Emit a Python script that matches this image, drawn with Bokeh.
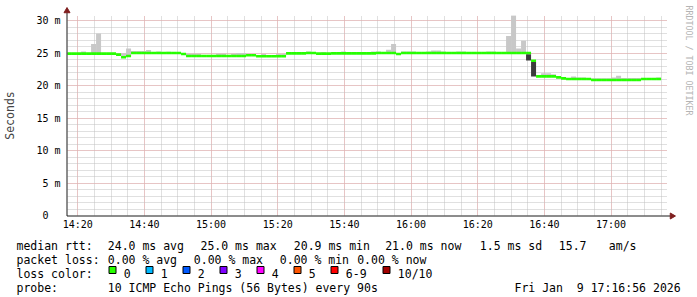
import numpy as np
import pandas as pd
from bokeh.plotting import figure
from bokeh.models import Range1d, FixedTicker, DatetimeTickFormatter
from bokeh.embed import file_html
from bokeh.resources import INLINE
from bokeh.core.properties import value

# ---------------- data ----------------
first_step = "2026-01-09 14:16:30"   # RRD step start
step_seconds = 90
view_start = "2026-01-09 14:16:56"
view_end = "2026-01-09 17:16:56"

# median rtt per 90 s step (ms)
median_ms = [
    24.9, 24.9, 24.9, 24.9, 24.9, 24.9, 24.9, 24.9, 24.9, 24.9,
    24.75, 24.35, 24.55, 25.0, 25.0, 25.0, 25.0, 25.0, 25.0, 25.0,
    25.0, 25.0, 25.0, 24.85, 24.55, 24.55, 24.55, 24.55, 24.55, 24.55,
    24.55, 24.55, 24.55, 24.55, 24.55, 24.55, 24.65, 24.65, 24.5, 24.5,
    24.5, 24.5, 24.5, 24.5, 24.95, 24.95, 24.95, 24.95, 25.0, 25.0,
    24.9, 24.9, 24.9, 24.95, 24.95, 24.95, 24.95, 24.95, 24.95, 24.95,
    24.95, 24.95, 25.0, 25.0, 25.0, 25.0, 24.85, 25.0, 25.0, 25.0,
    25.0, 25.0, 25.0, 25.0, 25.0, 25.0, 25.0, 25.0, 25.0, 25.0,
    25.0, 25.0, 25.0, 25.0, 25.0, 25.0, 25.0, 25.0, 25.0, 25.0,
    25.0, 25.0, 25.0, 23.8, 21.4, 21.4, 21.4, 21.4, 21.25, 21.1,
    21.0, 21.0, 21.0, 21.0, 21.0, 20.85, 20.85, 20.85, 20.85, 20.85,
    20.85, 20.85, 20.85, 20.85, 20.85, 21.0, 21.0, 21.0, 21.0,
]

# top of the light smoke per step (ms)
smoke_hi_ms = [
    24.9, 24.9, 24.9, 25.25, 24.9, 26.4, 28.0, 24.9, 24.9, 24.9,
    24.75, 24.95, 25.7, 25.3, 25.3, 25.3, 25.45, 25.0, 25.25, 25.0,
    25.2, 25.0, 25.0, 24.85, 24.9, 24.9, 24.9, 24.55, 24.55, 24.55,
    24.9, 24.9, 24.55, 24.9, 25.0, 25.0, 24.65, 24.65, 24.5, 24.85,
    24.5, 24.5, 24.85, 24.85, 24.95, 24.95, 24.95, 24.95, 25.25, 25.0,
    24.9, 25.1, 24.9, 24.95, 24.95, 25.25, 24.95, 24.95, 24.95, 24.95,
    24.95, 25.25, 25.25, 25.0, 25.5, 26.4, 24.85, 25.25, 25.25, 25.25,
    25.0, 25.0, 25.25, 25.4, 25.4, 25.25, 25.0, 25.1, 25.25, 25.25,
    25.0, 25.1, 25.0, 25.0, 25.25, 25.25, 25.0, 25.0, 27.6, 30.8,
    25.7, 26.9, 25.0, 23.8, 21.4, 21.9, 21.9, 21.75, 21.25, 21.1,
    21.15, 21.4, 21.25, 21.25, 21.15, 21.1, 21.1, 21.1, 21.1, 21.25,
    21.5, 21.15, 21.15, 21.15, 21.15, 21.0, 21.0, 21.1, 21.25,
]

# dark smoke (inner pings) where it shows
dark_steps = [92, 93]
dark_lo_ms = [23.85, 21.4]
dark_hi_ms = [24.8, 23.6]

y_major = [0, 5, 10, 15, 20, 25, 30]
y_labels = ["0\u00a0\u00a0", "5 m", "10 m", "15 m", "20 m", "25 m", "30 m"]
y_minor = list(range(0, 31))
y_top = 30.77

# legend content
median_stats = ["24.0 ms avg", "25.0 ms max", "20.9 ms min", "21.0 ms now", "1.5 ms sd", "15.7", "am/s"]
loss_stats = ["0.00 % avg", "0.00 % max", "0.00 % min", "0.00 % now"]
loss_names = ["0", "1", "2", "3", "4", "5", "6-9", "10/10"]
loss_colors = ["#26ff00", "#00b8ff", "#0059ff", "#7e00ff", "#ff00ff", "#ff5500", "#ff0000", "#a10000"]
probe_text = "10 ICMP Echo Pings (56 Bytes) every 90s"
stamp_text = "Fri Jan \u00a09 17:16:56 2026"
credit_text = "RRDTOOL / TOBI OETIKER"


def ms(ts):
    return int(pd.Timestamp(ts).timestamp() * 1000)


steps = pd.date_range(first_step, periods=len(median_ms), freq=f"{step_seconds}s")
left = np.array([ms(t) for t in steps], dtype=float)
right = left + step_seconds * 1000
med = np.array(median_ms)
hi = np.array(smoke_hi_ms)

MONO = "DejaVu Sans Mono"
GRID_MINOR = "#c0c0c0"
GRID_MAJOR = "#eeaaaa"
AXIS_COL = "#1a1a1a"
ARROW_COL = "#7f1f1f"

p = figure(width=697, height=297, output_backend="svg", toolbar_location=None,
           x_axis_type="datetime",
           x_range=Range1d(ms(view_start), ms(view_end)),
           y_range=Range1d(0, y_top),
           min_border_left=67, min_border_right=30, min_border_top=15, min_border_bottom=82)
p.outline_line_color = None
p.background_fill_color = "white"
p.border_fill_color = "white"
# page-pixel helper ranges for legend / decorations outside the frame
p.extra_x_ranges = {"px": Range1d(67, 667)}
p.extra_y_ranges = {"px": Range1d(215, 15)}
PX = dict(x_range_name="px", y_range_name="px", level="overlay")

# light smoke
p.quad(left=left, right=right, bottom=med, top=np.maximum(hi, med),
       fill_color="#c8c8c8", line_color=None)
# dark smoke
p.quad(left=left[dark_steps], right=right[dark_steps], bottom=dark_lo_ms, top=dark_hi_ms,
       fill_color="#3c3c3c", line_color=None)
# median band (loss colour 0)
p.quad(left=left, right=right, bottom=med - 0.2, top=med + 0.2,
       fill_color=loss_colors[0], line_color=None)

x_major = [ms(t) for t in pd.date_range("2026-01-09 14:20", "2026-01-09 17:00", freq="20min")]
x_minor = [ms(t) for t in pd.date_range("2026-01-09 14:20", "2026-01-09 17:15", freq="5min")]
xt = FixedTicker(ticks=x_major, minor_ticks=x_minor)
p.xaxis.ticker = xt
p.xgrid.ticker = xt
p.xaxis.formatter = DatetimeTickFormatter(minutes="%H:%M", hourmin="%H:%M", hours="%H:%M",
                                          minsec="%H:%M", days="%H:%M")
yt = FixedTicker(ticks=y_major, minor_ticks=y_minor)
p.yaxis.ticker = yt
p.ygrid.ticker = yt
p.yaxis.major_label_overrides = {v: s for v, s in zip(y_major, y_labels)}

for g in (p.xgrid, p.ygrid):
    g.grid_line_color = GRID_MAJOR
    g.grid_line_dash = "1 1"
    g.minor_grid_line_color = GRID_MINOR
    g.minor_grid_line_dash = "1 1"

for ax in (p.xaxis, p.yaxis):
    ax.major_tick_in = 0
    ax.major_tick_out = 0
    ax.minor_tick_in = 0
    ax.minor_tick_out = 0
    ax.axis_line_color = None
    ax.major_label_text_font = MONO
    ax.major_label_text_font_size = "10px"
    ax.major_label_text_color = "black"
p.xaxis.major_label_standoff = 3
p.yaxis.major_label_standoff = 7
p.yaxis.axis_label = "Seconds"
p.yaxis.axis_label_text_font = MONO
p.yaxis.axis_label_text_font_size = "11.5px"
p.yaxis.axis_label_text_font_style = "normal"
p.yaxis.axis_label_standoff = 16

# axis lines with arrow heads (page pixels)
p.segment(x0=[66.5, 66.5], y0=[215.5, 215.5], x1=[66.5, 670], y1=[12, 215.5],
          line_color=AXIS_COL, line_width=1, **PX)
p.scatter(x=[66.5, 671.5], y=[10.5, 215.5], marker="triangle", size=6,
          angle=[0, -np.pi / 2], fill_color=ARROW_COL, line_color=ARROW_COL, **PX)

p.text(x=[688], y=[60], text=[credit_text], angle=-np.pi / 2,
       text_align="center", text_baseline="middle",
       text_font=value(MONO), text_font_size=value("8.3px"), text_color="#b4b4b4", **PX)

# ---------------- legend ----------------
lx, ly, lt = [], [], []
base = [245, 259, 273, 287]
lx += [16, 107.3, 200, 293.3, 384.7, 479.3, 558.3, 608.3]
ly += [base[0]] * 8
lt += ["median rtt:"] + median_stats
lx += [16, 107.3, 193.3, 279.3, 356.7]
ly += [base[1]] * 5
lt += ["packet loss:"] + loss_stats
sw_x = [108.5, 145.5, 182.5, 219.5, 256.5, 293.5, 330.5, 382.5]
lx += [16] + [x + 14.8 for x in sw_x]
ly += [base[2]] * 9
lt += ["loss color:"] + loss_names
lx += [16, 107.3, 514]
ly += [base[3]] * 3
lt += ["probe:", probe_text, stamp_text]

p.text(x=lx, y=ly, text=lt, text_font=value(MONO), text_font_size=value("11.5px"),
       text_baseline="alphabetic", text_align="left", text_color="black", **PX)
p.quad(left=sw_x, right=[x + 7 for x in sw_x], top=[266] * 8, bottom=[273] * 8,
       fill_color=loss_colors, line_color="black", line_width=1, **PX)

open("out.html", "w").write(file_html(p, INLINE))
